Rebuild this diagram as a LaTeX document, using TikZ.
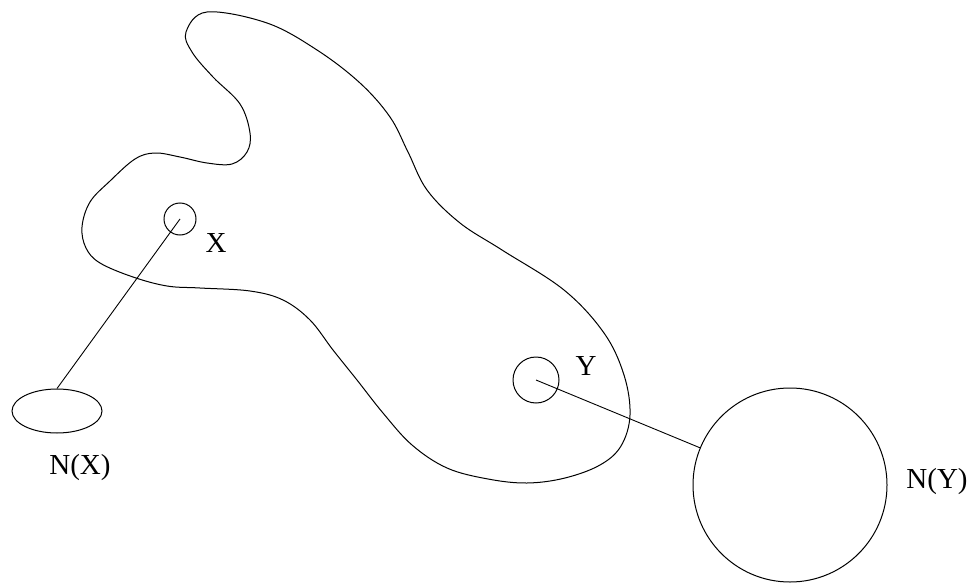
\documentclass[tikz,border=0pt]{standalone}
\usepackage{fontspec}
\setmainfont{Liberation Serif}
\usepackage{tikz}
\usetikzlibrary{shapes.geometric}

\begin{document}
\begin{tikzpicture}[
x=1pt,y=-1pt,
line width=1pt,
ring/.style={draw,circle,inner sep=0pt},
oval/.style={draw,ellipse,inner sep=0pt},
lab/.style={inner sep=0pt,font=\fontsize{29}{32}\selectfont},
link/.style={line width=0.9pt}
]
\useasboundingbox (0,0) rectangle (971,583);
\draw plot[smooth cycle,tension=0.6] coordinates {
(186,32) (207,12) (267,23) (317,50) (360,83) (390,117) (408,152) (427,190)
(460,223) (502,250) (564,290) (604,333) (624,375) (630,415) (621,446)
(600,465) (565,478) (527,483) (488,479) (447,468) (412,445) (383,413)
(357,380) (333,350) (310,320) (283,300) (250,291) (200,288) (167,286)
(133,277) (100,263) (86,248) (82,227) (90,202) (110,181) (135,159)
(155,153) (180,157) (207,163) (232,164) (247,152) (250,133) (240,104)
(213,77) (192,52)};
\node[ring,minimum size=32pt] (x) at (180,219) {};
\node[ring,minimum size=46pt] (y) at (536,380) {};
\node[oval,minimum width=90pt,minimum height=44pt] (nx) at (57,411) {};
\node[ring,minimum size=194pt] (ny) at (790,485) {};
\node[lab] (xlab) at (216,243) {X};
\node[lab] (ylab) at (586,366) {Y};
\node[lab] (nxlab) at (80,468) {N(X)};
\node[lab] (nylab) at (937,482) {N(Y)};
\draw[link] (x.center)--(nx.north);
\draw[link] (y.center)--(ny);
\end{tikzpicture}
\end{document}
